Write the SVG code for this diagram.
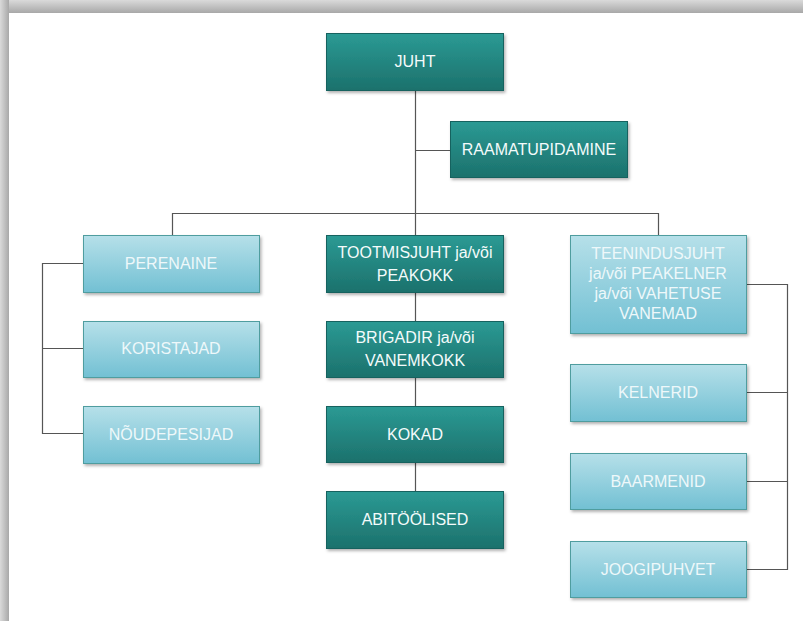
<svg xmlns="http://www.w3.org/2000/svg" width="803" height="621" viewBox="0 0 803 621">
<defs>
<linearGradient id="gTop" x1="0" y1="0" x2="0" y2="1"><stop offset="0" stop-color="#dadada"/><stop offset="1" stop-color="#a8a8a8"/></linearGradient>
<linearGradient id="gLeft" x1="0" y1="0" x2="1" y2="0"><stop offset="0" stop-color="#dadada"/><stop offset="1" stop-color="#a8a8a8"/></linearGradient>
<linearGradient id="gDark" x1="0" y1="0" x2="0" y2="1"><stop offset="0" stop-color="#2b9a94"/><stop offset="1" stop-color="#1c716c"/></linearGradient>
<linearGradient id="gLight" x1="0" y1="0" x2="0" y2="1"><stop offset="0" stop-color="#b6e0e9"/><stop offset="1" stop-color="#72c0d3"/></linearGradient>
<filter id="sh" x="-10%" y="-10%" width="130%" height="140%"><feDropShadow dx="1.5" dy="2" stdDeviation="1.5" flood-color="#000" flood-opacity="0.3"/></filter>
</defs>
<style>
.dark{fill:url(#gDark);stroke:#17625e;stroke-width:1;filter:url(#sh)}
.light{fill:url(#gLight);stroke:#4f9d9f;stroke-width:1;filter:url(#sh)}
.t{font-family:"Liberation Sans",Arial,sans-serif;font-size:16px;text-anchor:middle;fill:#f4fbfb}
.tl{font-family:"Liberation Sans",Arial,sans-serif;font-size:16px;text-anchor:middle;fill:#eef8fa}
.c{fill:none;stroke:#555;stroke-width:1.2}
</style>
<rect x="0" y="0" width="803" height="621" fill="#fff"/>
<rect x="0" y="0" width="803" height="13" fill="url(#gTop)"/>
<rect x="0" y="0" width="9" height="621" fill="url(#gLeft)"/>
<g id="connectors">
<path class="c" d="M415.5,90 V235 M415.5,150.5 H450 M172.5,235 V213.5 H658.5 V235"/>
<path class="c" d="M415.5,292 V321 M415.5,377 V406 M415.5,462 V491"/>
<path class="c" d="M83,263.5 H42.5 V433.5 H83 M42.5,348.5 H83"/>
<path class="c" d="M746,284.5 H787.5 V569.5 H746 M746,392.5 H787.5 M746,481.5 H787.5"/>
</g>
<g id="juht"><rect class="dark" x="326.5" y="33.5" width="177" height="57"/><text class="t" x="415" y="67">JUHT</text></g>
<g id="raamatupidamine"><rect class="dark" x="450.5" y="121.5" width="177" height="56"/><text class="t" x="539" y="155">RAAMATUPIDAMINE</text></g>
<g id="perenaine"><rect class="light" x="83.5" y="235.5" width="176" height="57"/><text class="tl" x="171" y="269">PERENAINE</text></g>
<g id="koristajad"><rect class="light" x="83.5" y="321.5" width="176" height="56"/><text class="tl" x="171" y="354">KORISTAJAD</text></g>
<g id="noudepesijad"><rect class="light" x="83.5" y="406.5" width="176" height="57"/><text class="tl" x="171" y="440">NÕUDEPESIJAD</text></g>
<g id="tootmisjuht"><rect class="dark" x="326.5" y="235.5" width="177" height="57"/><text class="t" x="415" y="258">TOOTMISJUHT ja/või</text><text class="t" x="415" y="281">PEAKOKK</text></g>
<g id="brigadir"><rect class="dark" x="326.5" y="321.5" width="177" height="56"/><text class="t" x="415" y="343">BRIGADIR ja/või</text><text class="t" x="415" y="366">VANEMKOKK</text></g>
<g id="kokad"><rect class="dark" x="326.5" y="406.5" width="177" height="56"/><text class="t" x="415" y="440">KOKAD</text></g>
<g id="abitoolised"><rect class="dark" x="326.5" y="491.5" width="177" height="57"/><text class="t" x="415" y="525">ABITÖÖLISED</text></g>
<g id="teenindusjuht"><rect class="light" x="570.5" y="235.5" width="176" height="98"/><text class="tl" x="658" y="259">TEENINDUSJUHT</text><text class="tl" x="658" y="279">ja/või PEAKELNER</text><text class="tl" x="658" y="299">ja/või VAHETUSE</text><text class="tl" x="658" y="319">VANEMAD</text></g>
<g id="kelnerid"><rect class="light" x="570.5" y="364.5" width="176" height="57"/><text class="tl" x="658" y="398">KELNERID</text></g>
<g id="baarmenid"><rect class="light" x="570.5" y="453.5" width="176" height="56"/><text class="tl" x="658" y="487">BAARMENID</text></g>
<g id="joogipuhvet"><rect class="light" x="570.5" y="541.5" width="176" height="56"/><text class="tl" x="658" y="575">JOOGIPUHVET</text></g>
</svg>
